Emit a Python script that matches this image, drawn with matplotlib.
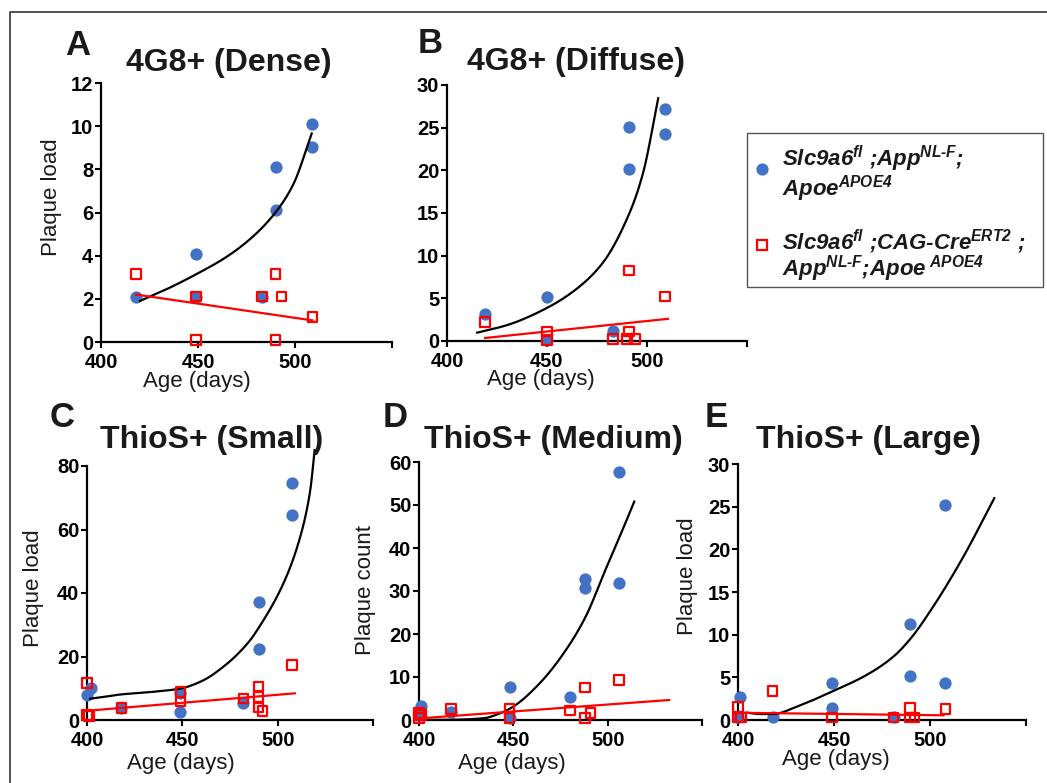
import numpy as np
import matplotlib
matplotlib.use("Agg")
import matplotlib.pyplot as plt
from matplotlib.lines import Line2D
from matplotlib.patches import Rectangle

W, H = 1047, 783
BLUE = "#4472C4"
RED = "#FF0000"

plt.rcParams["font.family"] = ["Liberation Sans", "DejaVu Sans"]
plt.rcParams["font.weight"] = "bold"
plt.rcParams["mathtext.fontset"] = "custom"
plt.rcParams["mathtext.rm"] = "Liberation Sans:italic:bold"
plt.rcParams["mathtext.it"] = "Liberation Sans:italic:bold"
plt.rcParams["mathtext.bf"] = "Liberation Sans:italic:bold"

# ---- data (age in days, value) ----
blue_A_x = [418, 449, 449, 483, 490, 490, 509, 509]
blue_A_y = [2.1, 4.1, 2.1, 2.1, 8.1, 6.1, 10.1, 9.05]
red_A_x = [418, 449, 449, 483, 490, 493, 490, 509]
red_A_y = [3.15, 2.1, 0.1, 2.1, 3.15, 2.1, 0.1, 1.15]

blue_B_x = [419, 450, 450, 483, 491, 491, 509, 509]
blue_B_y = [3.2, 5.2, 0.1, 1.2, 25.1, 20.1, 27.2, 24.2]
red_B_x = [419, 450, 450, 483, 491, 491, 490, 494, 509]
red_B_y = [2.2, 1.1, 0.1, 0.2, 8.25, 1.1, 0.2, 0.2, 5.2]

blue_C_x = [400, 402, 418, 449, 449, 482, 490, 490, 507.6, 507.6]
blue_C_y = [7.9, 10.2, 3.7, 8.5, 2.6, 5.4, 37.3, 22.3, 74.5, 64.6]
red_C_x = [400, 400, 401, 418, 449, 449, 482, 490, 490, 490, 492, 507.6]
red_C_y = [11.7, 1.6, 1.3, 3.7, 8.9, 5.8, 6.8, 10.5, 7.3, 3.9, 2.8, 17.3]

blue_D_x = [401, 400, 417, 448, 448, 480, 488, 488, 506, 506]
blue_D_y = [3.3, 1.1, 1.9, 7.6, 0.4, 5.4, 32.7, 30.6, 57.7, 31.8]
red_D_x = [400, 401, 400, 417, 448, 448, 480, 488, 488, 491, 506]
red_D_y = [1.7, 1.1, 0.4, 2.5, 2.7, 0.4, 2.2, 7.6, 0.5, 1.7, 9.3]

blue_E_x = [401, 400, 418, 449, 449, 481, 489.6, 489.6, 508, 508]
blue_E_y = [2.7, 0.4, 0.4, 4.3, 1.4, 0.3, 11.3, 5.2, 25.2, 4.3]
red_E_x = [400, 400, 401.5, 418, 449, 481, 489.6, 489.6, 492, 508]
red_E_y = [1.5, 0.3, 0.3, 3.4, 0.3, 0.3, 1.4, 0.3, 0.3, 1.3]

# ---- trend lines ----
trend_black_A_x = [420.1, 433.9, 449.3, 464.8, 478.5, 490.6, 499.1, 508.6]
trend_black_A_y = [1.90, 2.45, 3.15, 3.95, 4.90, 6.08, 7.30, 9.66]
trend_black_B_x = [415.1, 430.3, 449.6, 464.1, 477.7, 491.2, 498.0, 505.6]
trend_black_B_y = [0.98, 1.88, 3.83, 5.98, 9.1, 14.97, 19.66, 28.45]
trend_black_C_x = [401.6, 408, 417, 435, 449, 460, 473, 485, 490, 503, 511.5, 517, 519.4]
trend_black_C_y = [6.7, 7.2, 8.0, 8.9, 9.9, 12.2, 17.5, 24.7, 29, 43, 57, 72, 85]
trend_black_D_x = [400, 416.8, 434.2, 442.9, 449.9, 463.9, 477.9, 488.3, 498.8, 509.3, 514.1]
trend_black_D_y = [0.0, 0.05, 0.4, 1.55, 3.1, 8.5, 16.3, 24.0, 34.9, 45.7, 50.8]
trend_black_E_x = [404.5, 411.5, 418.4, 430.6, 448.8, 467, 480.9, 489.6, 501.7, 517.3, 533.5]
trend_black_E_y = [0.86, 0.70, 0.70, 1.56, 3.32, 5.28, 7.42, 9.46, 13.3, 19.1, 26.0]

trend_red_A = ([418, 509], [2.2, 1.0])
trend_red_B = ([419, 510.5], [0.35, 2.6])
trend_red_C = ([400, 509], [2.9, 8.4])
trend_red_D = ([401, 532.6], [0.4, 4.65])
trend_red_E = ([400, 507], [0.85, 0.55])

x_ticks = [400, 450, 500, 550]
x_ticklabels = ["400", "450", "500", ""]

panels = [
    dict(letter="A", title="4G8+ (Dense)", ylab="Plaque load", ymax=12, ystep=2,
         bx=blue_A_x, by=blue_A_y, rx=red_A_x, ry=red_A_y,
         tbx=trend_black_A_x, tby=trend_black_A_y, tr=trend_red_A,
         box=(101, 392, 83, 342), letter_xy=(65, 55), title_xy=(229, 71),
         ylab_xy=(52, 197), xlab_xy=(197, 381), xpad=3.6),
    dict(letter="B", title="4G8+ (Diffuse)", ylab=None, ymax=30, ystep=5,
         bx=blue_B_x, by=blue_B_y, rx=red_B_x, ry=red_B_y,
         tbx=trend_black_B_x, tby=trend_black_B_y, tr=trend_red_B,
         box=(447, 747, 85, 341), letter_xy=(418, 53), title_xy=(576, 70),
         ylab_xy=None, xlab_xy=(541, 380), xpad=3.6),
    dict(letter="C", title="ThioS+ (Small)", ylab="Plaque load", ymax=80, ystep=20,
         bx=blue_C_x, by=blue_C_y, rx=red_C_x, ry=red_C_y,
         tbx=trend_black_C_x, tby=trend_black_C_y, tr=trend_red_C,
         box=(87, 373, 466, 720), letter_xy=(50, 427), title_xy=(212, 448),
         ylab_xy=(34, 588), xlab_xy=(181, 763), xpad=4.0),
    dict(letter="D", title="ThioS+ (Medium)", ylab="Plaque count", ymax=60, ystep=10,
         bx=blue_D_x, by=blue_D_y, rx=red_D_x, ry=red_D_y,
         tbx=trend_black_D_x, tby=trend_black_D_y, tr=trend_red_D,
         box=(419, 702, 462, 720), letter_xy=(383, 427), title_xy=(553, 448),
         ylab_xy=(365, 590), xlab_xy=(512, 763), xpad=4.0),
    dict(letter="E", title="ThioS+ (Large)", ylab="Plaque load", ymax=30, ystep=5,
         bx=blue_E_x, by=blue_E_y, rx=red_E_x, ry=red_E_y,
         tbx=trend_black_E_x, tby=trend_black_E_y, tr=trend_red_E,
         box=(738, 1026, 464, 720), letter_xy=(705, 427), title_xy=(869, 448),
         ylab_xy=(687, 576), xlab_xy=(836, 760), xpad=3.6),
]


def fx(px):
    return px / W


def fy(py):
    return 1 - py / H


def pchip(x, y, xs):
    """Shape-preserving cubic through the read points (smooth rendering)."""
    x = np.asarray(x, float)
    y = np.asarray(y, float)
    h = np.diff(x)
    d = np.diff(y) / h
    n = len(x)
    m = np.zeros(n)
    m[0], m[-1] = d[0], d[-1]
    for k in range(1, n - 1):
        if d[k - 1] * d[k] <= 0:
            m[k] = 0.0
        else:
            w1 = 2 * h[k] + h[k - 1]
            w2 = h[k] + 2 * h[k - 1]
            m[k] = (w1 + w2) / (w1 / d[k - 1] + w2 / d[k])
    idx = np.clip(np.searchsorted(x, xs) - 1, 0, n - 2)
    t = (xs - x[idx]) / h[idx]
    h00 = 2 * t**3 - 3 * t**2 + 1
    h10 = t**3 - 2 * t**2 + t
    h01 = -2 * t**3 + 3 * t**2
    h11 = t**3 - t**2
    return h00 * y[idx] + h10 * h[idx] * m[idx] + h01 * y[idx + 1] + h11 * h[idx] * m[idx + 1]


fig = plt.figure(figsize=(W / 100, H / 100), dpi=100)

for p in panels:
    l, r, t, b = p["box"]
    ax = fig.add_axes([fx(l), fy(b), (r - l) / W, (b - t) / H])
    ax.set_xlim(400, 550)
    ax.set_ylim(0, p["ymax"])
    ax.patch.set_alpha(0)
    for s in ["top", "right"]:
        ax.spines[s].set_visible(False)
    for s in ["left", "bottom"]:
        ax.spines[s].set_linewidth(1.6)
    ax.set_xticks(x_ticks)
    ax.set_xticklabels(x_ticklabels)
    ax.set_yticks(np.arange(0, p["ymax"] + 0.01, p["ystep"]))
    ax.tick_params(direction="out", length=4, width=1.5, labelsize=14.5, pad=1.5)
    ax.tick_params(axis="x", pad=p["xpad"])

    ax.scatter(p["bx"], p["by"], s=78, color=BLUE, linewidths=0, clip_on=False, zorder=3)
    tx = np.array(p["tbx"], float)
    xs = np.linspace(tx[0], tx[-1], 400)
    ax.plot(xs, pchip(tx, p["tby"], xs), color="black", lw=1.6, clip_on=False, zorder=4)
    ax.scatter(p["rx"], p["ry"], s=48, marker="s", facecolor="none", edgecolor=RED,
               linewidths=1.6, clip_on=False, zorder=5)
    ax.plot(p["tr"][0], p["tr"][1], color=RED, lw=1.6, clip_on=False, zorder=6)

    lx, ly = p["letter_xy"]
    fig.text(fx(lx), fy(ly), p["letter"], fontsize=25, fontweight="bold",
             ha="left", va="baseline", color="#1a1a1a")
    tx_, ty_ = p["title_xy"]
    fig.text(fx(tx_), fy(ty_), p["title"], fontsize=23, fontweight="bold",
             ha="center", va="baseline", color="#1a1a1a")
    if p["ylab"]:
        yx, yy = p["ylab_xy"]
        fig.text(fx(yx), fy(yy), p["ylab"], fontsize=16, fontweight="normal",
                 rotation=90, ha="center", va="center", color="#1a1a1a")
    xx, xy = p["xlab_xy"]
    fig.text(fx(xx), fy(xy), "Age (days)", fontsize=16, fontweight="normal",
             ha="center", va="center", color="#1a1a1a")

# figure frame (top and left edges)
fig.add_artist(Line2D([fx(10), fx(10), 1.0], [0.0, fy(12), fy(12)],
                      transform=fig.transFigure, color="#444444", lw=1.3))

# legend box
fig.add_artist(Rectangle((fx(747), fy(287)), (1043 - 747) / W, (287 - 133) / H,
                         transform=fig.transFigure, facecolor="white",
                         edgecolor="#555555", lw=1.0))
fig.add_artist(Line2D([fx(762)], [fy(169)], transform=fig.transFigure, marker="o",
                      markersize=8.8, color=BLUE, markeredgewidth=0, linestyle="none"))
fig.add_artist(Line2D([fx(762)], [fy(245)], transform=fig.transFigure, marker="s",
                      markersize=6.5, markerfacecolor="none", markeredgecolor=RED,
                      markeredgewidth=1.6, linestyle="none"))

legend_lines = [
    (166, r"$\text{Slc9a6}^{\text{fl}}\text{ ;App}^{\text{NL-F}}\text{;}$"),
    (196, r"$\text{Apoe}^{\text{APOE4}}$"),
    (250, r"$\text{Slc9a6}^{\text{fl}}\text{ ;CAG-Cre}^{\text{ERT2}}\text{ ;}$"),
    (276, r"$\text{App}^{\text{NL-F}}\text{;Apoe}^{\text{ APOE4}}$"),
]
for yb, s in legend_lines:
    fig.text(fx(782), fy(yb), s, fontsize=16, ha="left", va="baseline", color="#1a1a1a")

fig.savefig("out.png", dpi=100)
